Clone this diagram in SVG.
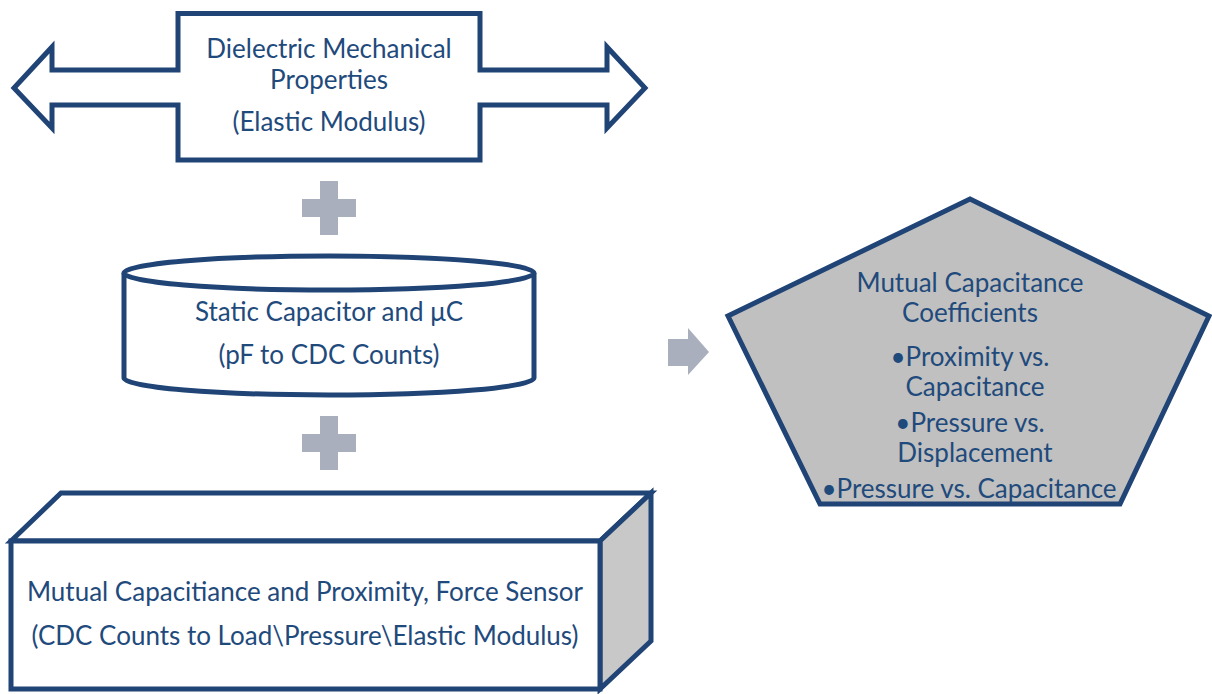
<svg xmlns="http://www.w3.org/2000/svg" width="1212" height="694" viewBox="0 0 1212 694">
<style>
.shape{stroke:#1F4475;stroke-width:5;stroke-linejoin:miter}
.lbl{font-family:Lato,"Open Sans","Liberation Sans",sans-serif;font-size:26px;fill:#1F4A7C;text-anchor:middle}
.plus{fill:#A9AFBC}
</style>
<rect width="1212" height="694" fill="#FFFFFF"/>
<g id="dielectric">
<path class="shape" fill="#FFFFFF" d="M14,88 L52,47 L52,70 L178,70 L178,13.5 L480,13.5 L480,70 L607,70 L607,47 L645,88 L607,128 L607,105 L480,105 L480,160 L178,160 L178,105 L52,105 L52,128 Z"/>
<text class="lbl" x="329" y="58">Dielectric Mechanical</text>
<text class="lbl" x="329" y="89">Properties</text>
<text class="lbl" x="329" y="131">(Elastic Modulus)</text>
</g>
<g id="plus1">
<path class="plus" d="M320,181 H338 V199 H356 V217 H338 V235 H320 V217 H302 V199 H320 Z"/>
</g>
<g id="capacitor">
<path class="shape" fill="#FFFFFF" d="M124,273 V378 A205,17 0 0 0 534,378 V273"/>
<ellipse class="shape" fill="#FFFFFF" cx="329" cy="273" rx="205" ry="17"/>
<text class="lbl" x="329" y="321">Static Capacitor and μC</text>
<text class="lbl" x="329" y="364">(pF to CDC Counts)</text>
</g>
<g id="plus2">
<path class="plus" d="M320,416 H338 V434 H356 V452 H338 V470 H320 V452 H302 V434 H320 Z"/>
</g>
<g id="sensor">
<polygon class="shape" fill="#FFFFFF" points="11,541 61,493 651,493 600,541"/>
<polygon class="shape" fill="#C8C8C8" points="600,541 651,493 651,641 600,689"/>
<rect class="shape" fill="#FFFFFF" x="11" y="541" width="589" height="148"/>
<text class="lbl" x="305" y="601">Mutual Capacitiance and Proximity, Force Sensor</text>
<text class="lbl" x="305" y="645">(CDC Counts to Load\Pressure\Elastic Modulus)</text>
</g>
<g id="connectors">
<path class="plus" d="M668,339 H688 V328 L709,352 L688,375 V366 H668 Z"/>
</g>
<g id="coefficients">
<polygon class="shape" fill="#C0C0C0" points="970,199 1209,316 1120,504 820,504 728,316"/>
<text class="lbl" x="970" y="292">Mutual Capacitance</text>
<text class="lbl" x="970" y="322">Coefficients</text>
<text class="lbl" x="970" y="366">•Proximity vs.</text>
<text class="lbl" x="975" y="396">Capacitance</text>
<text class="lbl" x="970" y="432">•Pressure vs.</text>
<text class="lbl" x="975" y="462">Displacement</text>
<text class="lbl" x="969" y="498">•Pressure vs. Capacitance</text>
</g>
</svg>
